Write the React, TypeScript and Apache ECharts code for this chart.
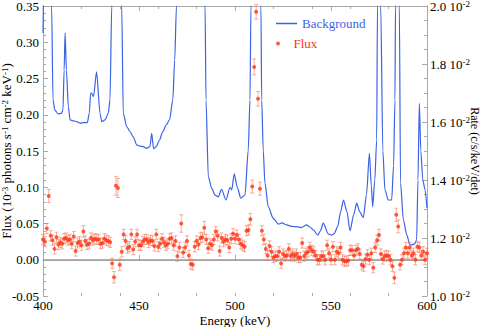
import React, { useEffect, useRef } from 'react';
import * as echarts from 'echarts';

// Flux spectrum: 1 keV bins starting at 400 keV
const fluxStartKeV = 400;
const fluxValues = [
  0.028, 0.025, 0.043, 0.088, 0.033, 0.027, 0.015, 0.031, 0.021, 0.024,
  0.022, 0.029, 0.030, 0.027, 0.028, 0.022, 0.032, 0.012, 0.023, 0.025,
  0.020, 0.039, 0.026, 0.021, 0.022, 0.030, 0.027, 0.029, 0.028, 0.028,
  0.022, 0.023, 0.029, 0.027, 0.026, 0.024, -0.005, -0.024, 0.102, 0.099,
  -0.007, 0.011, 0.035, 0.026, 0.016, 0.018, 0.035, 0.014, 0.025, 0.035,
  0.020, 0.020, 0.025, 0.028, 0.028, 0.024, 0.027, 0.026, 0.019, 0.035,
  0.018, 0.022, 0.029, 0.024, 0.020, 0.022, 0.029, 0.030, 0.020, 0.026,
  0.005, 0.017, 0.050, 0.010, 0.017, 0.026, 0.006, -0.006, -0.007, 0.018,
  0.026, 0.021, 0.030, 0.031, 0.044, 0.028, 0.016, 0.022, 0.020, 0.028,
  0.039, 0.033, 0.012, 0.030, 0.025, 0.028, 0.027, 0.017, 0.029, 0.036,
  0.029, 0.034, 0.028, 0.022, 0.020, 0.018, 0.040, 0.041, 0.056, 0.101,
  0.266, 0.342, 0.222, 0.098, 0.040, 0.028, 0.015, 0.006, 0.019, 0.011,
  0.003, 0.005, 0.005, 0.011, -0.005, 0.008, 0.005, 0.006, 0.015, 0.005,
  0.008, 0.005, 0.008, 0.003, 0.003, 0.023, 0.005, 0.009, 0.011, 0.017,
  0.013, 0.011, 0.006, 0.000, 0.000, 0.005, 0.005, 0.000, 0.020, 0.009,
  0.000, 0.018, 0.000, 0.011, 0.009, 0.017, 0.000, -0.002, -0.002, -0.001,
  0.013, 0.013, 0.006, 0.013, 0.015, 0.008, -0.007, -0.009, 0.001, 0.007,
  0.000, 0.009, -0.011, 0.017, 0.027, 0.034, 0.008, 0.001, 0.005, 0.006,
  0.005, 0.000, -0.009, -0.025, 0.062, 0.046, -0.007, 0.000, 0.009, 0.017,
  0.009, 0.017, 0.006, 0.009, 0.000, 0.018, 0.017, 0.006, 0.011, 0.000,
  0.009,
];
const fluxErrors = [
  0.007, 0.007, 0.007, 0.009, 0.007, 0.007, 0.007, 0.007, 0.007, 0.007,
  0.007, 0.007, 0.007, 0.007, 0.007, 0.007, 0.007, 0.007, 0.007, 0.007,
  0.007, 0.008, 0.007, 0.007, 0.007, 0.007, 0.007, 0.007, 0.007, 0.007,
  0.007, 0.007, 0.007, 0.007, 0.007, 0.007, 0.007, 0.008, 0.013, 0.013,
  0.008, 0.007, 0.007, 0.007, 0.007, 0.007, 0.007, 0.007, 0.007, 0.007,
  0.007, 0.007, 0.007, 0.007, 0.007, 0.007, 0.007, 0.007, 0.007, 0.007,
  0.007, 0.007, 0.007, 0.007, 0.007, 0.007, 0.007, 0.007, 0.007, 0.007,
  0.007, 0.007, 0.012, 0.007, 0.007, 0.007, 0.007, 0.007, 0.007, 0.007,
  0.007, 0.007, 0.007, 0.007, 0.009, 0.007, 0.007, 0.007, 0.007, 0.007,
  0.007, 0.007, 0.007, 0.007, 0.007, 0.007, 0.007, 0.007, 0.007, 0.007,
  0.007, 0.007, 0.007, 0.007, 0.007, 0.007, 0.007, 0.007, 0.008, 0.009,
  0.011, 0.010, 0.010, 0.009, 0.007, 0.007, 0.007, 0.007, 0.007, 0.007,
  0.007, 0.007, 0.007, 0.007, 0.007, 0.007, 0.007, 0.007, 0.007, 0.007,
  0.007, 0.007, 0.007, 0.007, 0.007, 0.007, 0.007, 0.007, 0.007, 0.007,
  0.007, 0.007, 0.007, 0.007, 0.007, 0.007, 0.007, 0.007, 0.007, 0.007,
  0.007, 0.007, 0.007, 0.007, 0.007, 0.007, 0.007, 0.007, 0.007, 0.007,
  0.007, 0.007, 0.007, 0.007, 0.007, 0.007, 0.007, 0.007, 0.007, 0.007,
  0.007, 0.007, 0.007, 0.007, 0.007, 0.008, 0.007, 0.007, 0.007, 0.007,
  0.007, 0.007, 0.007, 0.008, 0.009, 0.009, 0.007, 0.007, 0.007, 0.007,
  0.007, 0.007, 0.007, 0.007, 0.007, 0.007, 0.007, 0.007, 0.007, 0.007,
  0.007,
];

// Background rate (c/s/keV/det), sampled along the curve
const bgEnergy = [
  400.0, 401.0, 402.0, 403.0, 404.0, 404.5, 405.2, 406.2, 407.9, 409.6,
  410.4, 411.0, 411.5, 412.2, 413.2, 414.1, 415.8, 417.6, 419.3, 421.0,
  423.1, 424.1, 424.8, 425.3, 426.3, 427.9, 429.7, 430.6, 432.3, 434.0,
  434.9, 435.8, 437.0, 438.3, 439.6, 441.0, 441.8, 443.6, 445.3, 447.0,
  448.8, 450.5, 452.2, 454.0, 455.7, 456.6, 457.6, 459.0, 460.7, 462.4,
  464.2, 465.9, 467.6, 468.6, 469.5, 472.0, 476.0, 480.0, 483.0, 484.4,
  484.9, 486.1, 487.9, 489.6, 491.3, 493.0, 495.3, 497.4, 498.3, 499.6,
  501.2, 503.0, 505.2, 506.9, 507.8, 508.3, 510.0, 511.0, 512.0, 513.5,
  513.9, 514.7, 515.6, 517.3, 519.9, 522.6, 524.5, 526.9, 529.5, 532.1,
  534.5, 537.3, 539.0, 540.8, 543.1, 544.5, 546.0, 548.6, 550.4, 551.7,
  553.5, 555.0, 556.5, 558.3, 559.9, 561.8, 563.4, 565.0, 566.8, 568.5,
  570.0, 571.0, 571.7, 572.8, 573.8, 574.2, 575.0, 575.9, 577.0, 578.1,
  579.8, 581.6, 582.6, 583.3, 583.6, 584.6, 585.6, 586.2, 587.7, 589.5,
  591.1, 592.2, 593.5, 594.6, 595.3, 596.0, 596.8, 597.8, 599.0, 600.0,
];
const bgRate = [
  0.01907, 0.0225, 0.0265, 0.0245, 0.0212, 0.0200, 0.01676, 0.01641, 0.01628, 0.0163,
  0.01641, 0.01779, 0.01907, 0.01779, 0.01653, 0.01607, 0.01604, 0.01601, 0.01596, 0.01598,
  0.01598, 0.0163, 0.01699, 0.0170, 0.01687, 0.01773, 0.0163, 0.01601, 0.01607, 0.0163,
  0.01676, 0.0200, 0.0280, 0.0340, 0.0280, 0.0200, 0.0163, 0.01584, 0.01567, 0.01549,
  0.01521, 0.01517, 0.01515, 0.01509, 0.01515, 0.01561, 0.01508, 0.01515, 0.01538, 0.01567,
  0.0159, 0.01607, 0.01676, 0.01814, 0.0200, 0.0260, 0.0300, 0.0280, 0.0240, 0.0200,
  0.01676, 0.01411, 0.01371, 0.01348, 0.01342, 0.01368, 0.01331, 0.01375, 0.01366, 0.01421,
  0.01375, 0.01337, 0.01348, 0.01503, 0.01676, 0.0200, 0.0300, 0.0400, 0.0300, 0.0200,
  0.01676, 0.01503, 0.01389, 0.01308, 0.01268, 0.01248, 0.01252, 0.01245, 0.0124, 0.01239,
  0.01236, 0.01245, 0.01238, 0.01228, 0.0121, 0.01225, 0.01251, 0.01214, 0.0121, 0.01215,
  0.0124, 0.0129, 0.01331, 0.01291, 0.01225, 0.0128, 0.0132, 0.0129, 0.0127, 0.0135,
  0.01492, 0.0138, 0.01308, 0.0140, 0.01538, 0.0200, 0.0260, 0.0200, 0.0150, 0.01366,
  0.01331, 0.01331, 0.0145, 0.01676, 0.0200, 0.0270, 0.0200, 0.0139, 0.01262, 0.0121,
  0.01176, 0.01176, 0.0118, 0.01193, 0.0140, 0.01664, 0.0150, 0.0140, 0.01366, 0.01303,
];

const SERIF = 'Liberation Serif';
const GREY = '#a9a9a9';
const BLUE = '#3b63e6';
const RED = '#ff3311';
const ERR = 'rgba(243,120,95,0.6)';

export default function App() {
  const ref = useRef<HTMLDivElement>(null);
  useEffect(() => {
    const chart = echarts.init(ref.current!, null, { renderer: 'svg' });
    const flux = fluxValues.map((v, i) => [fluxStartKeV + i, v, fluxErrors[i]]);
    const bg = bgEnergy.map((e, i) => [e, bgRate[i]]);
    const tickStyle = { color: GREY, width: 1 };
    const xBase = { type: 'value', min: 400, max: 600, splitLine: { show: false } };
    chart.setOption({
      animation: false,
      backgroundColor: '#fff',
      textStyle: { fontFamily: SERIF },
      grid: { left: 43, right: 53, top: 6, bottom: 31, containLabel: false, outerBoundsMode: 'none' },
      legend: [
        {
          data: [{ name: 'Background', icon: 'rect' }],
          left: 276, top: 17, padding: 0, itemWidth: 21, itemHeight: 1.5,
          textStyle: { color: BLUE, fontFamily: SERIF, fontSize: 13 },
        },
        {
          data: [{ name: 'Flux', icon: 'circle' }],
          left: 276, top: 37, padding: 0, itemWidth: 21, itemHeight: 4,
          textStyle: { color: RED, fontFamily: SERIF, fontSize: 13 },
        },
      ],
      xAxis: [
        {
          ...xBase, interval: 50, position: 'bottom',
          axisLine: { show: true, lineStyle: tickStyle },
          axisTick: { show: true, inside: true, length: 5, lineStyle: tickStyle },
          axisLabel: { color: '#000', fontFamily: SERIF, fontSize: 13, margin: 3 },
          name: 'Energy (keV)', nameLocation: 'middle', nameGap: 18, nameMoveOverlap: false,
          nameTextStyle: { color: '#000', fontFamily: SERIF, fontSize: 13 },
        },
        {
          ...xBase, interval: 20, position: 'bottom',
          axisLine: { show: false },
          axisTick: { show: true, inside: true, length: 3, lineStyle: tickStyle },
          axisLabel: { show: false },
        },
        {
          ...xBase, interval: 50, position: 'top',
          axisLine: { show: true, lineStyle: tickStyle },
          axisTick: { show: true, inside: true, length: 5, lineStyle: tickStyle },
          axisLabel: { show: false },
        },
        {
          ...xBase, interval: 20, position: 'top',
          axisLine: { show: false },
          axisTick: { show: true, inside: true, length: 3, lineStyle: tickStyle },
          axisLabel: { show: false },
        },
      ],
      yAxis: [
        {
          type: 'value', min: -0.05, max: 0.35, interval: 0.05, position: 'left',
          splitLine: { show: false },
          axisLine: { show: true, lineStyle: tickStyle },
          axisTick: { show: true, inside: true, length: 5, lineStyle: tickStyle },
          minorTick: { show: true, splitNumber: 5, length: 3, lineStyle: tickStyle },
          axisLabel: {
            color: '#000', fontFamily: SERIF, fontSize: 13, margin: 4,
            formatter: (v: number) => v.toFixed(2),
          },
          name: 'Flux (10{s|-3} photons s{s|-1} cm{s|-2} keV{s|-1})',
          nameLocation: 'middle', nameGap: 30, nameRotate: 90, nameMoveOverlap: false,
          nameTextStyle: {
            color: '#000', fontFamily: SERIF, fontSize: 13,
            rich: { s: { fontSize: 9, verticalAlign: 'top', fontFamily: SERIF, color: '#000' } },
          },
        },
        {
          type: 'value', min: 0.01, max: 0.02, interval: 0.002, position: 'right',
          splitLine: { show: false },
          axisLine: { show: true, lineStyle: tickStyle },
          axisTick: { show: true, inside: true, length: 5, lineStyle: tickStyle },
          minorTick: { show: true, splitNumber: 4, length: 3, lineStyle: tickStyle },
          axisLabel: {
            margin: 3,
            formatter: (v: number) => `{a|${(v * 100).toFixed(1)} 10}{s|-2}`,
            rich: {
              a: { fontSize: 13, fontFamily: SERIF, color: '#000' },
              s: { fontSize: 9, fontFamily: SERIF, color: '#000', verticalAlign: 'top' },
            },
          },
          name: 'Rate (c/s/keV/det)',
          nameLocation: 'middle', nameGap: 42, nameRotate: -90, nameMoveOverlap: false,
          nameTextStyle: { color: '#000', fontFamily: SERIF, fontSize: 12 },
        },
      ],
      series: [
        {
          type: 'line', name: 'zero', xAxisIndex: 0, yAxisIndex: 0,
          data: [[400, 0], [600, 0]], showSymbol: false, silent: true,
          lineStyle: { color: '#999', width: 1 }, z: 1,
        },
        {
          type: 'line', name: 'Background', xAxisIndex: 0, yAxisIndex: 1,
          data: bg, showSymbol: false, smooth: 0.25, smoothMonotone: 'x', clip: true,
          lineStyle: { color: BLUE, width: 1.2 }, itemStyle: { color: BLUE }, z: 2,
        },
        {
          type: 'custom', name: 'fluxErr', xAxisIndex: 0, yAxisIndex: 0,
          data: flux, encode: { x: 0, y: 1 }, z: 3, silent: true,
          renderItem: (params: any, api: any) => {
            const x = api.value(0), y = api.value(1), e = api.value(2);
            const top = api.coord([x, y + e]);
            const bot = api.coord([x, y - e]);
            const st = { stroke: ERR, lineWidth: 1 };
            return {
              type: 'group',
              children: [
                { type: 'line', shape: { x1: top[0], y1: top[1], x2: bot[0], y2: bot[1] }, style: st },
                { type: 'line', shape: { x1: top[0] - 2, y1: top[1], x2: top[0] + 2, y2: top[1] }, style: st },
                { type: 'line', shape: { x1: bot[0] - 2, y1: bot[1], x2: bot[0] + 2, y2: bot[1] }, style: st },
              ],
            };
          },
        },
        {
          type: 'scatter', name: 'Flux', xAxisIndex: 0, yAxisIndex: 0,
          data: flux.map((d) => [d[0], d[1]]), symbol: 'circle', symbolSize: 4,
          itemStyle: { color: RED }, z: 4,
        },
      ],
    });
    return () => chart.dispose();
  }, []);
  return <div ref={ref} style={{ position: 'fixed', left: 0, top: 0, width: 480, height: 327 }} />;
}
